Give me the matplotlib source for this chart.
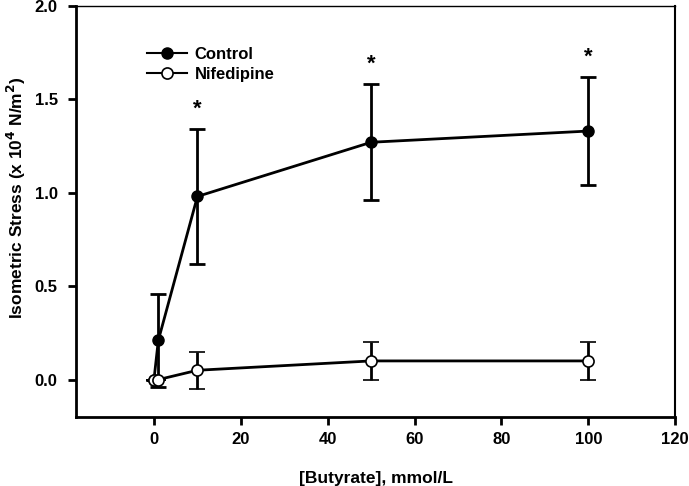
import matplotlib
matplotlib.use("Agg")
import matplotlib.pyplot as plt
from matplotlib.lines import Line2D

plt.rcParams['font.family'] = ['Liberation Sans', 'DejaVu Sans']
plt.rcParams['font.weight'] = 'bold'
plt.rcParams['mathtext.default'] = 'bf'

butyrate = [0, 1, 10, 50, 100]
control = [0.0, 0.21, 0.98, 1.27, 1.33]
control_err = [0.0, 0.25, 0.36, 0.31, 0.29]
nifedipine = [0.0, 0.0, 0.05, 0.10, 0.10]
nifedipine_err = [0.0, 0.0, 0.10, 0.10, 0.10]
star_x = [10, 50, 100]

fig = plt.figure(figsize=(6.89, 4.86), dpi=100)
ax = fig.add_axes([0.110, 0.142, 0.870, 0.846])

ax.errorbar(butyrate, control, yerr=control_err, color='black', marker='o',
            markersize=8, markerfacecolor='black', lw=2, elinewidth=2,
            capsize=6, capthick=2, zorder=2)
ax.errorbar(butyrate, nifedipine, yerr=nifedipine_err, color='black', marker='o',
            markersize=8, markerfacecolor='white', markeredgewidth=1.2, lw=2,
            elinewidth=2, capsize=6, capthick=2, zorder=3)

# significance stars above the upper caps
for x in star_x:
    i = butyrate.index(x)
    ax.text(x, control[i] + control_err[i] + 0.05, '*', ha='center', va='bottom',
            fontsize=16, fontweight='bold')

ax.set_xlim(-18, 120)
ax.set_ylim(-0.2, 2.0)
ax.set_xticks([0, 20, 40, 60, 80, 100, 120])
ax.set_yticks([0.0, 0.5, 1.0, 1.5, 2.0])
ax.set_yticklabels(['0.0', '0.5', '1.0', '1.5', '2.0'])
ax.tick_params(direction='out', length=6, width=2, labelsize=12)
ax.tick_params(axis='x', pad=5)
ax.tick_params(axis='y', pad=7)
for lab in ax.get_xticklabels() + ax.get_yticklabels():
    lab.set_fontweight('bold')

ax.spines['left'].set_linewidth(2)
ax.spines['bottom'].set_linewidth(2)
ax.spines['top'].set_linewidth(1)
ax.spines['right'].set_linewidth(1.5)

ax.set_xlabel('[Butyrate], mmol/L', fontsize=12.5, fontweight='bold')
ax.xaxis.set_label_coords(0.5, -0.132)
ax.set_ylabel(r'Isometric Stress (x 10$^4$ N/m$^2$)',
              fontsize=12.5, fontweight='bold')
ax.yaxis.set_label_coords(-0.08, 0.533)

handles = [
    Line2D([], [], color='black', lw=1.5, marker='o', markersize=8,
           markerfacecolor='black'),
    Line2D([], [], color='black', lw=1.5, marker='o', markersize=8,
           markerfacecolor='white', markeredgewidth=1.2),
]
leg = ax.legend(handles, ['Control', 'Nifedipine'], loc='upper left',
                bbox_to_anchor=(0.118, 0.90), frameon=False,
                fontsize=12, handlelength=2.4, handletextpad=0.5,
                labelspacing=0.3, borderaxespad=0, borderpad=0)
for t in leg.get_texts():
    t.set_fontweight('bold')

fig.savefig('out.png', dpi=100)
